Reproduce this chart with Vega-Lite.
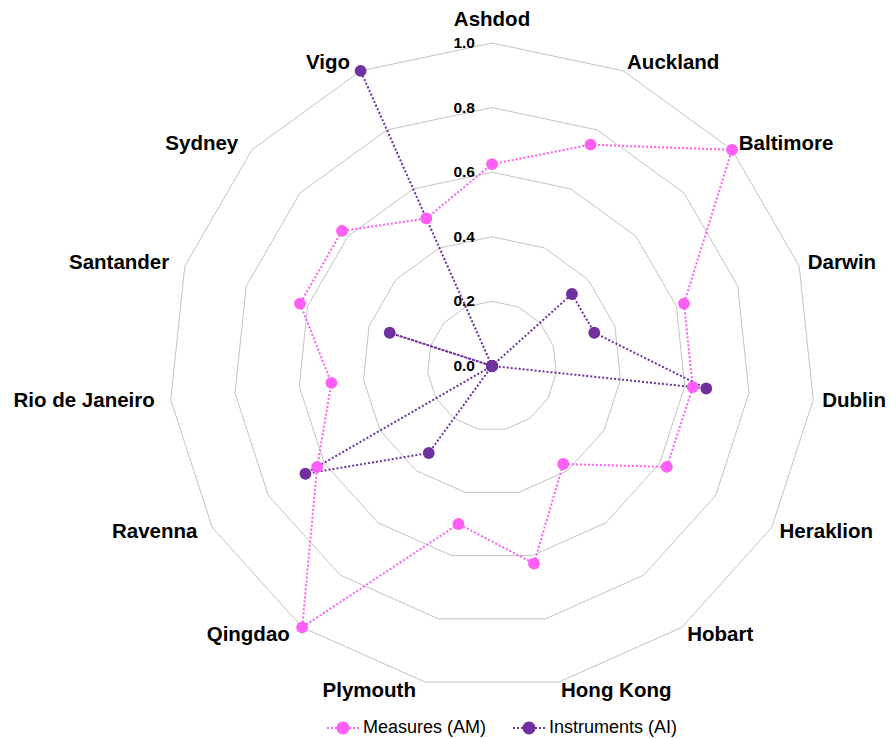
{
  "$schema": "https://vega.github.io/schema/vega-lite/v6.json",
  "width": 890,
  "height": 738,
  "autosize": {"type": "none"},
  "padding": 0,
  "config": {"view": {"stroke": null}, "font": "Liberation Sans"},
  "datasets": {
    "rings": [
      {"level": 0.2, "k": [0,1,2,3,4,5,6,7,8,9,10,11,12,13,14]},
      {"level": 0.4, "k": [0,1,2,3,4,5,6,7,8,9,10,11,12,13,14]},
      {"level": 0.6, "k": [0,1,2,3,4,5,6,7,8,9,10,11,12,13,14]},
      {"level": 0.8, "k": [0,1,2,3,4,5,6,7,8,9,10,11,12,13,14]},
      {"level": 1.0, "k": [0,1,2,3,4,5,6,7,8,9,10,11,12,13,14]}
    ],
    "ticks": [
      {"value": 0.0, "label": "0.0"},
      {"value": 0.2, "label": "0.2"},
      {"value": 0.4, "label": "0.4"},
      {"value": 0.6, "label": "0.6"},
      {"value": 0.8, "label": "0.8"},
      {"value": 1.0, "label": "1.0"}
    ],
    "cities": [
      {"city": "Ashdod", "idx": 0},
      {"city": "Auckland", "idx": 1},
      {"city": "Baltimore", "idx": 2},
      {"city": "Darwin", "idx": 3},
      {"city": "Dublin", "idx": 4},
      {"city": "Heraklion", "idx": 5},
      {"city": "Hobart", "idx": 6},
      {"city": "Hong Kong", "idx": 7},
      {"city": "Plymouth", "idx": 8},
      {"city": "Qingdao", "idx": 9},
      {"city": "Ravenna", "idx": 10},
      {"city": "Rio de Janeiro", "idx": 11},
      {"city": "Santander", "idx": 12},
      {"city": "Sydney", "idx": 13},
      {"city": "Vigo", "idx": 14}
    ],
    "series": [
      {"series": "Measures (AM)", "city": "Ashdod", "idx": 0, "value": 0.625},
      {"series": "Measures (AM)", "city": "Auckland", "idx": 1, "value": 0.75},
      {"series": "Measures (AM)", "city": "Baltimore", "idx": 2, "value": 1.0},
      {"series": "Measures (AM)", "city": "Darwin", "idx": 3, "value": 0.625},
      {"series": "Measures (AM)", "city": "Dublin", "idx": 4, "value": 0.625},
      {"series": "Measures (AM)", "city": "Heraklion", "idx": 5, "value": 0.625},
      {"series": "Measures (AM)", "city": "Hobart", "idx": 6, "value": 0.375},
      {"series": "Measures (AM)", "city": "Hong Kong", "idx": 7, "value": 0.625},
      {"series": "Measures (AM)", "city": "Plymouth", "idx": 8, "value": 0.5},
      {"series": "Measures (AM)", "city": "Qingdao", "idx": 9, "value": 1.0},
      {"series": "Measures (AM)", "city": "Ravenna", "idx": 10, "value": 0.625},
      {"series": "Measures (AM)", "city": "Rio de Janeiro", "idx": 11, "value": 0.5},
      {"series": "Measures (AM)", "city": "Santander", "idx": 12, "value": 0.625},
      {"series": "Measures (AM)", "city": "Sydney", "idx": 13, "value": 0.625},
      {"series": "Measures (AM)", "city": "Vigo", "idx": 14, "value": 0.5},
      {"series": "Instruments (AI)", "city": "Ashdod", "idx": 0, "value": 0},
      {"series": "Instruments (AI)", "city": "Auckland", "idx": 1, "value": 0},
      {"series": "Instruments (AI)", "city": "Baltimore", "idx": 2, "value": 0.333},
      {"series": "Instruments (AI)", "city": "Darwin", "idx": 3, "value": 0.333},
      {"series": "Instruments (AI)", "city": "Dublin", "idx": 4, "value": 0.667},
      {"series": "Instruments (AI)", "city": "Heraklion", "idx": 5, "value": 0},
      {"series": "Instruments (AI)", "city": "Hobart", "idx": 6, "value": 0},
      {"series": "Instruments (AI)", "city": "Hong Kong", "idx": 7, "value": 0},
      {"series": "Instruments (AI)", "city": "Plymouth", "idx": 8, "value": 0},
      {"series": "Instruments (AI)", "city": "Qingdao", "idx": 9, "value": 0.333},
      {"series": "Instruments (AI)", "city": "Ravenna", "idx": 10, "value": 0.667},
      {"series": "Instruments (AI)", "city": "Rio de Janeiro", "idx": 11, "value": 0},
      {"series": "Instruments (AI)", "city": "Santander", "idx": 12, "value": 0.333},
      {"series": "Instruments (AI)", "city": "Sydney", "idx": 13, "value": 0},
      {"series": "Instruments (AI)", "city": "Vigo", "idx": 14, "value": 1.0}
    ]
  },
  "encoding": {
    "x": {"field": "x", "type": "quantitative", "scale": {"domain": [-1.5232, 1.2322], "nice": false, "zero": false}, "axis": null},
    "y": {"field": "y", "type": "quantitative", "scale": {"domain": [-1.1517, 1.1331], "nice": false, "zero": false}, "axis": null}
  },
  "layer": [
    {
      "data": {"name": "rings"},
      "transform": [
        {"flatten": ["k"]},
        {"calculate": "datum.k*2*PI/15", "as": "a"},
        {"calculate": "datum.level*sin(datum.a)", "as": "x"},
        {"calculate": "datum.level*cos(datum.a)", "as": "y"}
      ],
      "mark": {"type": "line", "interpolate": "linear-closed", "color": "#c4c4c4", "strokeWidth": 1},
      "encoding": {
        "detail": {"field": "level", "type": "nominal"},
        "order": {"field": "k", "type": "quantitative"}
      }
    },
    {
      "data": {"name": "ticks"},
      "transform": [
        {"calculate": "0", "as": "x"},
        {"calculate": "datum.value", "as": "y"}
      ],
      "mark": {"type": "text", "align": "right", "baseline": "middle", "dx": -17, "fontSize": 15.5, "fontWeight": "bold", "color": "#000000"},
      "encoding": {"text": {"field": "label", "type": "nominal"}}
    },
    {
      "data": {"name": "series"},
      "transform": [
        {"calculate": "datum.idx*2*PI/15", "as": "a"},
        {"calculate": "datum.value*sin(datum.a)", "as": "x"},
        {"calculate": "datum.value*cos(datum.a)", "as": "y"}
      ],
      "mark": {"type": "line", "interpolate": "linear-closed", "strokeDash": [2, 2], "strokeWidth": 2},
      "encoding": {
        "color": {"field": "series", "type": "nominal", "scale": {"domain": ["Measures (AM)", "Instruments (AI)"], "range": ["#ff5ef7", "#7030a0"]}},
        "order": {"field": "idx", "type": "quantitative"}
      }
    },
    {
      "data": {"name": "series"},
      "transform": [
        {"calculate": "datum.idx*2*PI/15", "as": "a"},
        {"calculate": "datum.value*sin(datum.a)", "as": "x"},
        {"calculate": "datum.value*cos(datum.a)", "as": "y"}
      ],
      "mark": {"type": "point", "shape": "circle", "filled": true, "size": 140, "opacity": 1},
      "encoding": {
        "color": {
          "field": "series", "type": "nominal",
          "scale": {"domain": ["Measures (AM)", "Instruments (AI)"], "range": ["#ff5ef7", "#7030a0"]},
          "legend": {
            "title": null,
            "orient": "none",
            "legendX": 328,
            "legendY": 713,
            "direction": "horizontal",
            "padding": 0,
            "symbolType": "M-1.0667,-0.0667h0.1333v0.1333h-0.1333Z M-0.8,-0.0667h0.1333v0.1333h-0.1333Z M-0.5333,-0.0667h0.1333v0.1333h-0.1333Z M0.4,-0.0667h0.1333v0.1333h-0.1333Z M0.6667,-0.0667h0.1333v0.1333h-0.1333Z M0.9333,-0.0667h0.1333v0.1333h-0.1333Z M0.43,0A0.43,0.43 0 1 1 -0.43,0A0.43,0.43 0 1 1 0.43,0Z",
            "symbolSize": 900,
            "symbolStrokeWidth": 0,
            "symbolOpacity": 1,
            "labelFontSize": 18,
            "labelFont": "Liberation Sans",
            "labelColor": "#000000",
            "labelOffset": 5,
            "columnPadding": 25,
            "encode": {
              "symbols": {
                "update": {
                  "fill": {"scale": "color", "field": "value"},
                  "strokeWidth": {"value": 0}
                }
              }
            }
          }
        }
      }
    },
    {
      "data": {"name": "cities"},
      "transform": [
        {"filter": "datum.idx >= 1 && datum.idx <= 7"},
        {"calculate": "datum.idx*2*PI/15", "as": "a"},
        {"calculate": "1.028*sin(datum.a)", "as": "x"},
        {"calculate": "1.028*cos(datum.a)", "as": "y"}
      ],
      "mark": {"type": "text", "align": "left", "baseline": "middle", "fontSize": 20.5, "fontWeight": "bold", "color": "#000000"},
      "encoding": {"text": {"field": "city", "type": "nominal"}}
    },
    {
      "data": {"name": "cities"},
      "transform": [
        {"filter": "datum.idx >= 8"},
        {"calculate": "datum.idx*2*PI/15", "as": "a"},
        {"calculate": "1.028*sin(datum.a)", "as": "x"},
        {"calculate": "1.028*cos(datum.a)", "as": "y"}
      ],
      "mark": {"type": "text", "align": "right", "baseline": "middle", "dx": -7, "fontSize": 20.5, "fontWeight": "bold", "color": "#000000"},
      "encoding": {"text": {"field": "city", "type": "nominal"}}
    },
    {
      "data": {"name": "cities"},
      "transform": [
        {"filter": "datum.idx == 0"},
        {"calculate": "0", "as": "x"},
        {"calculate": "1.028", "as": "y"}
      ],
      "mark": {"type": "text", "align": "center", "baseline": "alphabetic", "dy": -8, "fontSize": 20.5, "fontWeight": "bold", "color": "#000000"},
      "encoding": {"text": {"field": "city", "type": "nominal"}}
    }
  ]
}
